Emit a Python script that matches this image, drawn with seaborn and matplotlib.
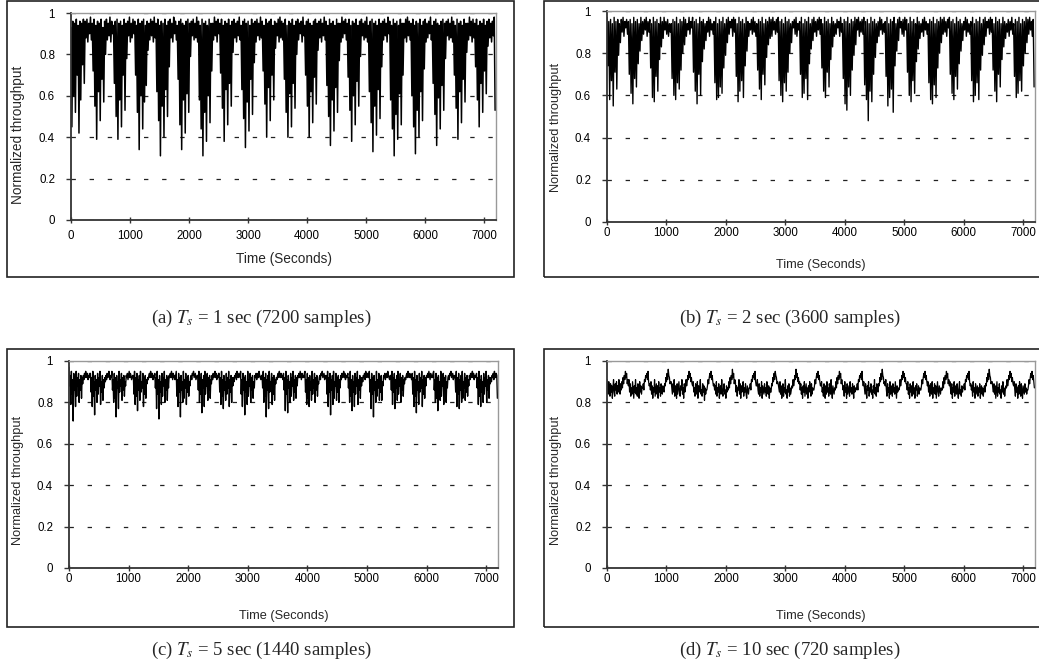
import numpy as np
import matplotlib
matplotlib.use("Agg")
import matplotlib.pyplot as plt
import seaborn as sns
from matplotlib.patches import Rectangle

# Normalized throughput (percent), one row per ~360 s traffic cycle.
thr_1s = [
    93,45,96,60,95,52,97,70,94,42,96,58,95,75,97,66, 96,88,97,86,95,90,98,87,
    95,72,97,55,94,39,96,62,95,48,97,68,93,57,96,80, 97,87,95,89,98,86,96,90,
    94,66,96,50,97,39,95,58,96,45,94,70,97,53,95,78, 96,89,98,86,95,88,97,90,
    96,70,94,52,97,34,95,60,96,44,97,57,94,65,96,82, 95,87,97,89,96,86,98,88,
    95,62,97,48,94,31,96,55,95,40,97,63,94,50,96,74, 97,88,95,86,98,90,96,87,
    94,68,96,46,97,34,95,58,94,42,96,61,97,52,95,79, 96,89,97,87,95,88,98,86,
    96,58,94,44,97,31,95,52,96,38,94,60,97,47,95,72, 95,87,98,89,96,86,97,90,
    95,71,97,54,94,38,96,63,95,46,97,66,94,55,96,81, 97,88,95,86,96,89,98,87,
    94,63,96,49,97,35,95,57,96,43,94,68,97,51,95,76, 96,86,97,89,95,87,98,88,
    96,72,94,56,97,40,95,64,96,48,97,70,94,58,96,83, 95,89,97,86,98,88,96,87,
    95,68,97,52,94,40,96,61,95,45,97,66,94,54,96,80, 97,87,95,90,96,86,98,89,
    94,70,96,55,97,40,95,62,94,47,96,69,97,56,95,82, 96,88,97,86,95,89,98,87,
    96,65,94,50,97,36,95,58,96,43,94,64,97,52,95,77, 95,86,98,88,96,90,97,87,
    95,69,97,53,94,38,96,60,95,46,97,67,94,55,96,79, 97,89,95,87,96,88,98,86,
    94,62,96,47,97,33,95,55,96,41,94,63,97,49,95,74, 96,87,97,89,95,86,98,90,
    96,58,94,44,97,31,95,51,96,39,94,61,97,46,95,70, 95,88,97,86,98,89,96,87,
    95,60,97,45,94,32,96,53,95,40,97,62,94,48,96,73, 97,86,95,88,96,90,98,87,
    94,66,96,51,97,36,95,59,94,44,96,65,97,53,95,78, 96,89,97,87,95,88,98,86,
    96,70,94,54,97,39,95,62,96,47,94,68,97,57,95,81, 95,87,98,89,96,86,97,88,
    95,74,97,58,94,45,96,66,95,52,97,72,94,61,96,84, 97,88,95,86,96,89,98,53,
]

thr_2s = [
    97,74,95,58,96,67,94,55,97,71,95,63,96,79,94,85, 96,90,97,88,95,92,96,89,
    95,70,96,61,94,56,97,68,95,64,96,75,94,81,97,86, 95,89,96,91,97,88,95,90,
    96,73,94,59,97,57,95,69,96,62,94,77,97,83,95,87, 97,91,95,89,96,88,94,90,
    94,68,96,60,95,58,97,66,94,63,96,72,95,80,97,84, 96,88,94,91,97,89,95,92,
    97,71,95,62,96,56,94,70,97,60,95,76,96,82,94,86, 95,90,97,88,96,91,94,89,
    95,66,97,58,94,59,96,64,95,61,97,73,94,79,96,85, 97,89,95,92,96,88,97,90,
    96,69,94,57,97,62,95,67,96,59,94,74,97,81,95,88, 94,91,96,89,97,90,95,88,
    94,72,96,63,95,58,97,70,94,65,96,78,95,84,97,87, 96,88,97,91,95,89,96,90,
    97,67,95,60,96,57,94,66,97,62,95,71,96,80,94,85, 95,92,96,89,97,88,94,91,
    95,70,97,59,94,61,96,68,95,58,97,75,94,82,96,86, 97,90,95,88,96,91,97,89,
    96,73,94,62,97,59,95,71,96,64,94,77,97,83,95,88, 94,89,96,92,95,88,97,90,
    94,68,96,56,95,53,97,64,94,60,96,72,95,79,97,84, 96,91,97,88,95,90,96,89,
    97,65,95,58,96,48,94,62,97,57,95,70,96,78,94,85, 95,88,97,91,96,89,94,90,
    95,69,97,55,94,59,96,63,95,52,97,74,94,81,96,86, 97,92,95,89,96,88,97,91,
    96,71,94,60,97,57,95,67,96,61,94,76,97,82,95,87, 94,90,96,88,97,91,95,89,
    94,66,96,58,95,56,97,65,94,59,96,73,95,80,97,85, 96,89,97,90,95,88,96,92,
    97,70,95,61,96,58,94,69,97,63,95,75,96,81,94,86, 95,91,97,88,96,90,94,89,
    95,67,97,57,94,60,96,66,95,58,97,72,94,79,96,84, 97,88,95,92,96,89,97,90,
    96,72,94,62,97,57,95,70,96,64,94,77,97,83,95,87, 94,90,96,88,95,91,97,89,
    94,69,96,59,95,61,97,67,94,62,96,74,95,80,97,85, 96,89,97,91,95,88,96,64,
]

thr_5s = [
    97,88,93,79,95,84,91,71,94,86,90,78,95,83,92,88,94,80,91,86,93,82,92,89, 93,91,94,92,95,93,92,94,91,93,92,94,
    94,85,92,78,95,83,90,74,93,86,91,80,94,84,92,88,95,79,90,85,93,81,91,87, 92,90,93,91,94,92,93,95,92,91,93,92,
    95,86,91,80,94,82,92,73,93,87,90,77,95,85,91,88,94,81,92,86,93,83,90,88, 93,92,94,91,93,95,92,94,93,91,92,93,
    93,84,95,79,92,83,94,76,91,86,93,81,95,85,90,87,94,78,92,84,93,82,91,89, 92,91,93,94,92,95,93,92,94,91,93,92,
    94,87,92,77,95,84,91,72,93,85,90,79,94,83,92,88,95,80,91,86,93,81,92,87, 93,92,94,92,95,93,91,94,92,93,91,93,
    95,83,91,78,94,85,92,73,93,86,90,80,95,82,91,87,94,79,92,85,93,83,90,88, 92,93,91,94,93,95,92,93,94,91,92,93,
    93,86,95,80,92,84,94,75,91,87,93,78,95,84,90,88,94,81,92,86,93,82,91,89, 93,91,94,92,93,95,92,94,91,93,92,94,
    94,85,92,79,95,83,91,77,93,86,90,81,94,84,92,87,95,78,91,85,93,80,92,88, 92,90,93,92,94,91,95,93,92,94,93,92,
    95,84,91,78,94,86,92,74,93,85,90,79,95,83,91,88,94,80,92,86,93,82,90,87, 93,92,94,91,93,94,92,95,93,92,91,93,
    93,87,95,80,92,83,94,73,91,86,93,77,95,85,90,88,94,79,92,84,93,81,91,89, 92,91,93,94,92,95,93,92,94,92,93,91,
    94,86,92,76,95,84,91,75,93,87,90,80,94,83,92,88,95,81,91,85,93,82,92,88, 93,92,94,92,95,93,91,94,92,93,92,94,
    95,85,91,79,94,82,92,78,93,86,90,81,95,84,91,87,94,80,92,86,93,83,90,89, 92,93,91,94,93,95,92,93,94,91,93,92,
    93,84,95,78,92,85,94,74,91,86,93,79,95,82,90,88,94,81,92,85,93,80,91,87, 93,91,94,92,93,95,92,94,91,93,92,93,
    94,87,92,80,95,83,91,76,93,85,90,78,94,84,92,88,95,79,91,86,93,82,92,88, 92,90,93,92,94,91,95,93,92,94,93,92,
    95,85,91,77,94,84,92,73,93,86,90,80,95,83,91,87,94,81,92,85,93,81,90,88, 93,92,94,91,93,94,92,95,93,92,91,93,
    93,86,95,79,92,85,94,77,91,87,93,81,95,84,90,88,94,80,92,86,93,83,91,89, 92,91,93,94,92,95,93,92,94,92,93,91,
    94,84,92,78,95,83,91,75,93,86,90,79,94,85,92,87,95,78,91,84,93,82,92,88, 93,92,94,92,95,93,91,94,92,93,92,94,
    95,86,91,80,94,82,92,76,93,85,90,81,95,83,91,88,94,79,92,86,93,80,90,87, 92,93,91,94,93,95,92,93,94,91,93,92,
    93,85,95,78,92,84,94,77,91,86,93,80,95,82,90,87,94,81,92,85,93,83,91,88, 93,91,94,92,93,95,92,94,91,93,92,93,
    94,87,92,79,95,83,91,78,93,85,90,80,94,84,92,88,95,80,91,86,93,82,92,89, 92,90,93,92,94,91,95,93,92,94,93,82,
]

thr_10s = [
    91,88,84,90,86,83,89,85,88,82,87,91,85,83,89,86,90,84,88,85,91,87,84,89, 86,90,87,92,89,93,91,95,92,94,89,91,
    88,91,85,89,83,87,84,90,86,82,88,85,91,84,87,83,89,86,82,90,85,88,84,87, 87,89,86,91,90,93,92,94,91,95,90,88,
    89,86,90,84,88,82,87,85,91,83,86,89,84,88,82,90,85,87,83,89,86,84,88,86, 85,89,88,92,90,94,91,96,93,92,89,90,
    90,87,84,89,85,91,83,88,86,82,89,84,87,90,85,83,88,86,91,84,87,82,89,85, 87,91,88,90,93,91,95,92,94,90,92,89,
    88,90,85,87,83,89,86,84,90,82,88,85,87,91,84,86,83,89,85,88,81,87,84,86, 86,88,91,89,92,94,92,95,91,93,90,88,
    89,86,88,84,90,83,87,85,89,82,86,88,84,91,85,83,87,89,84,86,82,88,85,87, 86,90,87,92,89,93,91,96,92,94,89,91,
    90,85,88,83,87,86,91,84,89,82,88,85,86,90,83,87,85,89,84,82,88,86,84,87, 87,89,86,91,90,93,92,94,91,95,90,88,
    88,91,86,84,89,83,87,85,90,82,88,86,84,89,85,87,83,90,86,84,88,82,87,85, 85,89,88,92,90,94,91,95,93,92,89,90,
    89,87,85,90,84,88,82,86,89,83,87,85,91,84,86,82,88,85,89,83,87,84,86,88, 87,91,88,90,93,91,96,92,94,90,92,89,
    90,86,89,84,87,82,88,85,90,83,86,89,84,87,82,88,85,90,86,83,89,84,87,86, 86,88,91,89,92,94,92,95,91,93,90,88,
    88,90,85,87,83,89,86,82,88,84,90,85,87,83,89,86,84,91,85,82,88,86,84,87, 86,90,87,92,89,93,91,95,92,94,89,91,
    89,86,88,83,90,85,87,82,89,84,86,88,83,90,85,87,84,89,86,82,88,85,87,86, 87,89,86,91,90,93,92,94,91,95,90,88,
    90,87,84,89,85,82,88,86,90,83,87,85,89,84,86,82,88,85,91,84,87,83,89,86, 85,89,88,92,90,94,91,96,93,92,89,90,
    88,91,86,83,89,85,87,82,90,84,88,86,83,89,85,87,84,90,86,82,88,85,87,86, 87,91,88,90,93,91,95,92,94,90,92,89,
    89,86,90,84,87,82,89,85,88,83,86,90,84,87,82,88,86,89,83,85,88,84,87,86, 86,88,91,89,92,94,92,95,91,93,90,88,
    90,85,88,83,89,86,84,90,82,87,85,89,84,88,82,86,90,85,83,88,86,84,87,86, 86,90,87,92,89,93,91,95,92,94,89,91,
    88,90,86,84,89,82,87,85,90,83,88,86,84,89,85,82,87,90,84,86,83,88,85,87, 87,89,86,91,90,93,92,94,91,95,90,88,
    89,86,88,83,90,85,87,82,89,84,86,88,83,87,85,89,82,86,88,84,87,83,86,88, 85,89,88,92,90,94,91,96,93,92,89,90,
    90,87,85,89,84,88,82,86,90,83,87,85,89,84,86,82,88,85,90,84,87,83,86,88, 87,91,88,90,93,91,95,92,94,90,92,89,
    88,90,86,83,89,85,87,82,88,84,90,86,83,89,85,82,88,86,84,89,85,87,84,86, 86,88,91,89,92,94,92,95,91,93,90,87,
]

DURATION = 7200
x_ticks = [0, 1000, 2000, 3000, 4000, 5000, 6000, 7000]
y_ticks = [0, 0.2, 0.4, 0.6, 0.8, 1]
y_tick_labels = ["0", "0.2", "0.4", "0.6", "0.8", "1"]
captions = [
    r"(a) $T_s$ = 1 sec (7200 samples)",
    r"(b) $T_s$ = 2 sec (3600 samples)",
    r"(c) $T_s$ = 5 sec (1440 samples)",
    r"(d) $T_s$ = 10 sec (720 samples)",
]
series = [thr_1s, thr_2s, thr_5s, thr_10s]

sns.set_style("white")
plt.rcParams["font.family"] = ["Liberation Sans", "DejaVu Sans"]
plt.rcParams["mathtext.fontset"] = "stix"

W, H = 1039, 667
fig = plt.figure(figsize=(W / 100, H / 100), dpi=100)


def fig_box(left, top, right, bottom):
    return [left / W, 1 - bottom / H, (right - left) / W, (bottom - top) / H]


# layout in pixels: plot area, outer frame, caption centre, label anchors, sizes
layout = [
    dict(plot=(71, 13, 496, 220), frame=(7, 1, 514, 277), cap=(261, 318),
         ylab=(18, 135), xlab_y=259, lab_fs=9.8, xpad=5.0, lw=1.1),
    dict(plot=(607, 11, 1035, 222), frame=(544, 1, 1046, 277), cap=(790, 318),
         ylab=(556, 127), xlab_y=265, lab_fs=9.2, xpad=1.5, lw=1.0),
    dict(plot=(69, 361, 498, 568), frame=(7, 349, 514, 627), cap=(261, 650),
         ylab=(18, 480), xlab_y=616, lab_fs=9.2, xpad=1.5, lw=1.0),
    dict(plot=(607, 361, 1035, 568), frame=(544, 349, 1046, 627), cap=(790, 650),
         ylab=(556, 480), xlab_y=616, lab_fs=9.2, xpad=1.5, lw=0.9),
]

for vals, cap, lay in zip(series, captions, layout):
    y = np.asarray(vals, dtype=float) / 100.0
    t = np.arange(len(y)) * (DURATION / len(y))

    l, tp, r, b = lay["plot"]
    ax = fig.add_axes(fig_box(l, tp, r, b))
    sns.lineplot(x=t, y=y, ax=ax, color="black", linewidth=lay["lw"],
                 estimator=None, sort=False)

    ax.set_xlim(0, DURATION)
    ax.set_ylim(0, 1)
    ax.set_xticks(x_ticks)
    ax.set_xticklabels([str(v) for v in x_ticks])
    ax.set_yticks(y_ticks)
    ax.set_yticklabels(y_tick_labels)
    ax.yaxis.grid(True, color="#222222", linewidth=0.9, linestyle=(0, (3.5, 11)))
    ax.xaxis.grid(False)
    ax.set_axisbelow(True)

    for side in ("left", "bottom"):
        ax.spines[side].set_color("#333333")
        ax.spines[side].set_linewidth(1.3)
    for side in ("top", "right"):
        ax.spines[side].set_color("#999999")
        ax.spines[side].set_linewidth(1.0)

    ax.tick_params(axis="y", direction="out", length=3.5, width=1, color="#333333",
                   labelsize=8.3, pad=8, left=True, labelcolor="black")
    ax.tick_params(axis="x", direction="inout", length=4.5, width=1, color="#333333",
                   labelsize=8.3, pad=lay["xpad"], bottom=True, labelcolor="black")

    ax.set_ylabel("Normalized throughput", fontsize=lay["lab_fs"])
    ax.yaxis.set_label_coords(lay["ylab"][0] / W, 1 - lay["ylab"][1] / H,
                              transform=fig.transFigure)
    ax.yaxis.label.set_va("center")
    ax.set_xlabel("Time (Seconds)", fontsize=lay["lab_fs"])
    ax.xaxis.set_label_coords(((l + r) / 2) / W, 1 - lay["xlab_y"] / H,
                              transform=fig.transFigure)
    ax.xaxis.label.set_va("center")

    fl, ft, fr, fb = lay["frame"]
    fig.add_artist(Rectangle((fl / W, 1 - fb / H), (fr - fl) / W, (fb - ft) / H,
                             transform=fig.transFigure, fill=False,
                             edgecolor="#222222", linewidth=1.2))
    fig.text(lay["cap"][0] / W, 1 - lay["cap"][1] / H, cap, ha="center", va="center",
             fontsize=13.5, family=["Liberation Serif", "DejaVu Serif"])

fig.savefig("out.png", dpi=100, facecolor="white")
